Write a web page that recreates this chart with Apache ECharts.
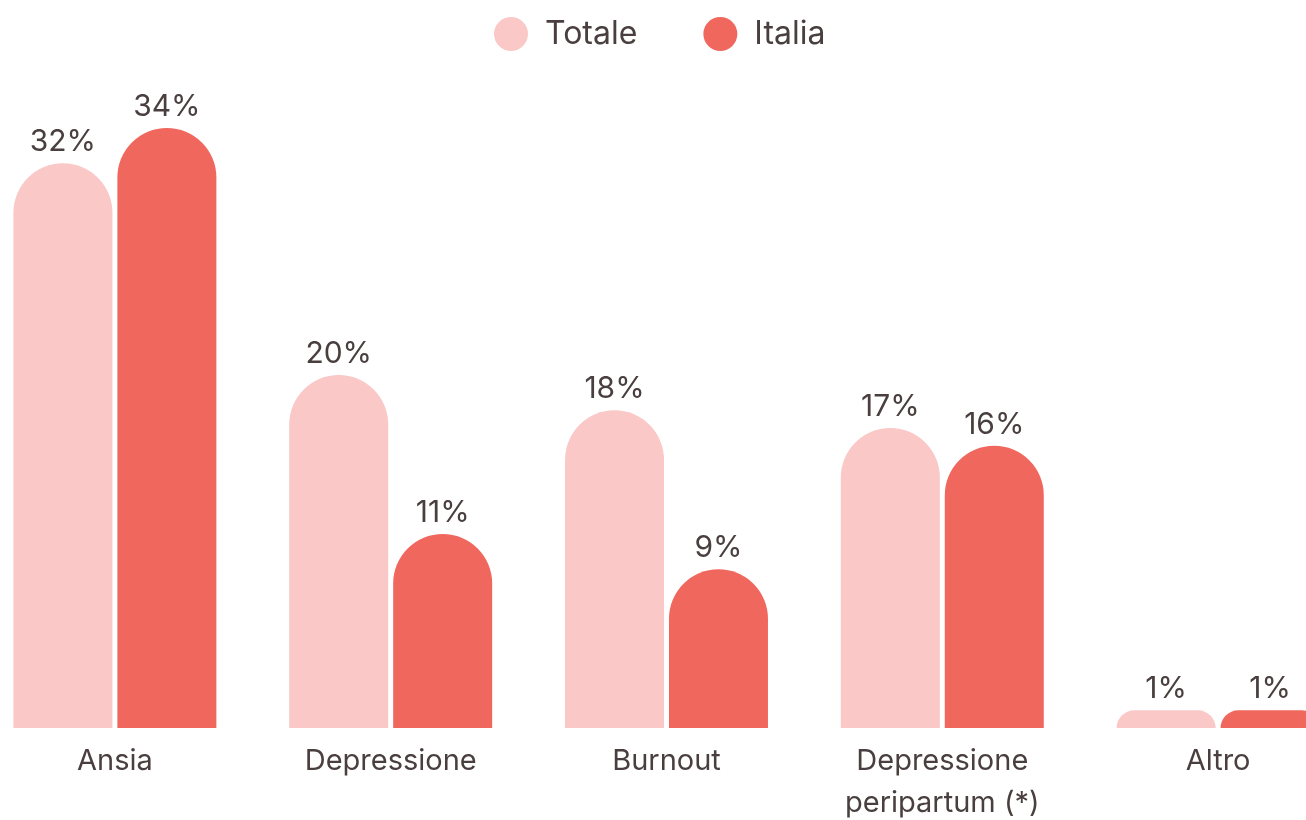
<!DOCTYPE html>
<html>
<head>
<meta charset="utf-8">
<script src="https://cdn.jsdelivr.net/npm/echarts@6/dist/echarts.min.js"></script>
<style>
html,body{margin:0;padding:0;background:#fff;}
#c{width:1306px;height:820px;}
</style>
</head>
<body>
<div id="c"></div>
<script>
const categories = ["Ansia", "Depressione", "Burnout", "Depressione\nperipartum (*)", "Altro"];
const totale = [32, 20, 18, 17, 1];
const italia = [34, 11, 9, 16, 1];
const seriesNames = ["Totale", "Italia"];

const textColor = "#4a3f3f";
const font = "Inter";
const chart = echarts.init(document.getElementById('c'));
const labelOpt = {
  show: true, position: 'top', distance: 6,
  formatter: '{c}%', color: textColor, fontFamily: font, fontSize: 30
};
chart.setOption({
  animation: false,
  legend: {
    top: 12, left: 489,
    icon: 'circle', itemWidth: 34, itemHeight: 34, itemGap: 66,
    textStyle: { color: textColor, fontFamily: font, fontSize: 32, padding: [0, 0, 0, 12] },
    data: seriesNames
  },
  grid: { left: -23, right: -50, top: 128, bottom: 92, containLabel: false, outerBoundsMode: 'none' },
  xAxis: {
    type: 'category', data: categories,
    axisLine: { show: false }, axisTick: { show: false },
    axisLabel: { color: textColor, fontFamily: font, fontSize: 29, margin: 12, lineHeight: 42, interval: 0 }
  },
  yAxis: { type: 'value', min: 0, max: 34, show: false, splitLine: { show: false } },
  series: [
    { name: seriesNames[0], type: 'bar', data: totale, barWidth: 99, barGap: '5%',
      itemStyle: { color: '#F9C8C7', borderRadius: [50, 50, 0, 0] }, label: labelOpt },
    { name: seriesNames[1], type: 'bar', data: italia, barWidth: 99,
      itemStyle: { color: '#F0675E', borderRadius: [50, 50, 0, 0] }, label: labelOpt }
  ]
});
</script>
</body>
</html>
